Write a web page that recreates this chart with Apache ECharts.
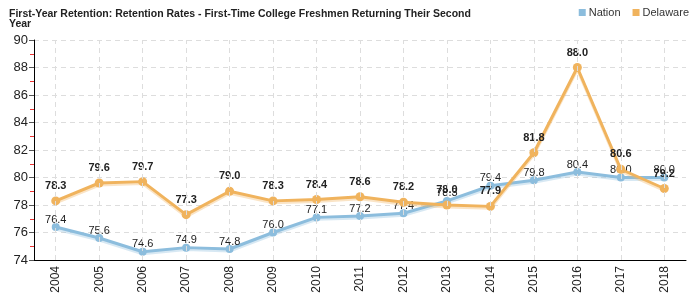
<!DOCTYPE html>
<html><head><meta charset="utf-8">
<script src="https://cdn.jsdelivr.net/npm/echarts@6/dist/echarts.min.js"></script>
<style>html,body{margin:0;padding:0;background:#fff}#c{width:700px;height:300px}</style>
</head><body><div id="c"></div>
<script>
const years = ['2004','2005','2006','2007','2008','2009','2010','2011','2012','2013','2014','2015','2016','2017','2018'];
const nation = [76.4, 75.6, 74.6, 74.9, 74.8, 76.0, 77.1, 77.2, 77.4, 78.3, 79.4, 79.8, 80.4, 80.0, 80.0];
const delaware = [78.3, 79.6, 79.7, 77.3, 79.0, 78.3, 78.4, 78.6, 78.2, 78.0, 77.9, 81.8, 88.0, 80.6, 79.2];
const titleText = 'First-Year Retention: Retention Rates - First-Time College Freshmen Returning Their Second\nYear';

const FONT = 'Liberation Sans, Arial, sans-serif';
const chart = echarts.init(document.getElementById('c'));
chart.setOption({
  animation: false,
  textStyle: { fontFamily: FONT },
  title: {
    text: titleText, left: 4, top: 4,
    textStyle: { fontSize: 10.5, fontWeight: 'bold', color: '#222', lineHeight: 10, fontFamily: FONT }
  },
  legend: {
    right: 6, top: 2, itemWidth: 7, itemHeight: 7, itemGap: 12, icon: 'rect',
    textStyle: { fontSize: 11, color: '#333', padding: [0,0,0,-2] },
    data: ['Nation', 'Delaware']
  },
  grid: { left: 34, right: 14, top: 40, bottom: 40 },
  xAxis: {
    type: 'category', data: years, boundaryGap: true,
    axisLine: { lineStyle: { color: '#000', width: 1 } },
    axisTick: { alignWithLabel: true, length: 5, lineStyle: { color: '#333' } },
    axisLabel: { rotate: 90, fontSize: 12, color: '#222', margin: 6 },
    splitLine: { show: false }
  },
  yAxis: {
    type: 'value', min: 74, max: 90, interval: 2,
    axisLine: { show: true, lineStyle: { color: '#000' } },
    axisTick: { show: true, length: 5, lineStyle: { color: '#555' } },
    minorTick: { show: true, splitNumber: 2, length: 4, lineStyle: { color: '#e33' } },
    axisLabel: { fontSize: 13, color: '#222', margin: 6 },
    splitLine: { show: true, lineStyle: { color: '#ddd', type: [5, 4] } }
  },
  series: [
    {
      name: 'grid', type: 'line', data: [], silent: true, z: 0,
      markLine: {
        silent: true, symbol: 'none', label: { show: false },
        lineStyle: { color: '#ddd', type: [5, 4], width: 1 },
        data: years.map(y => ({ xAxis: y }))
      }
    },
    {
      name: 'Nation', type: 'line', data: nation, color: '#8cbddd',
      symbol: 'circle', symbolSize: 8,
      lineStyle: { width: 3, color: '#8cbddd', shadowColor: 'rgba(140,189,221,0.35)', shadowBlur: 0, shadowOffsetY: 2 },
      itemStyle: { color: '#8cbddd' },
      label: { show: true, position: 'top', distance: -2, fontSize: 11, color: '#222', formatter: p => p.value.toFixed(1) },
      z: 2
    },
    {
      name: 'Delaware', type: 'line', data: delaware, color: '#f0b35d',
      symbol: 'circle', symbolSize: 9,
      lineStyle: { width: 3, color: '#f0b35d', shadowColor: 'rgba(240,179,93,0.35)', shadowBlur: 0, shadowOffsetY: 2 },
      itemStyle: { color: '#f0b35d' },
      label: { show: true, position: 'top', distance: 5, fontSize: 11, fontWeight: 'bold', color: '#222', formatter: p => p.value.toFixed(1) },
      z: 3
    }
  ]
});
</script></body></html>
